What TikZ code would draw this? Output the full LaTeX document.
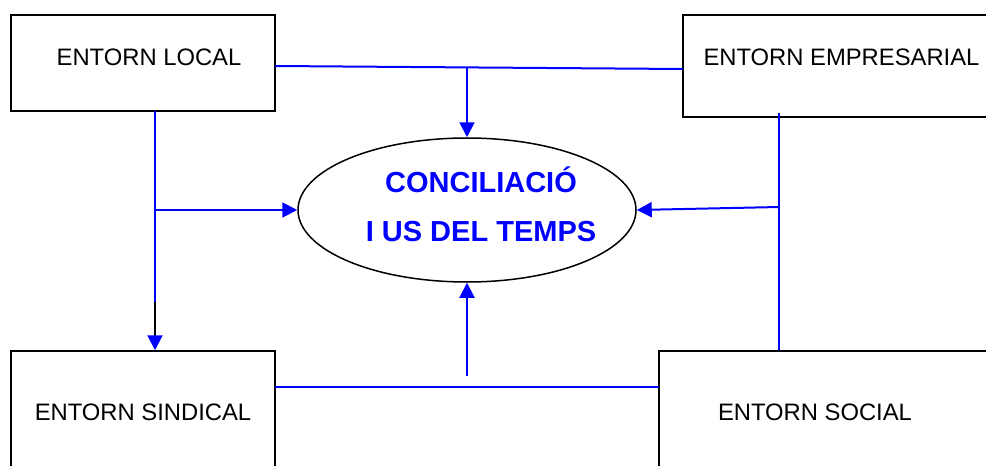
\documentclass[tikz,border=0pt]{standalone}
\usepackage{fontspec}
\setmainfont{Liberation Sans}
\usetikzlibrary{shapes.geometric,arrows.meta}
\definecolor{lineblue}{RGB}{0,0,255}
\begin{document}
\begin{tikzpicture}[x=1pt,y=-1pt,
  boxnode/.style={draw=black,line width=1.5pt,rectangle,inner sep=0pt,minimum width=#1},
  boxtext/.style={anchor=base,inner sep=0pt,font=\fontsize{23.8}{28}\selectfont},
  conn/.style={draw=lineblue,line width=2pt},
  tip/.style={-{Triangle[width=15pt,length=15pt,fill=lineblue,color=lineblue]}},
  centretext/.style={anchor=base,inner sep=0pt,text=lineblue,font=\fontsize{29}{34}\bfseries\selectfont}]
\useasboundingbox (0,0) rectangle (986,466);
\clip (0,0) rectangle (986,466);
% boxes
\node[boxnode=264pt,minimum height=96pt] (local) at (143,63) {};
\node[boxnode=340pt,minimum height=102pt] (empr) at (853,66) {};
\node[boxnode=264pt,minimum height=140pt] (sind) at (143,421) {};
\node[boxnode=360pt,minimum height=140pt] (social) at (839,421) {};
\node[boxtext] (tlocal) at (149,65) {ENTORN LOCAL};
\node[boxtext] (tempr) at (841.5,65) {ENTORN EMPRESARIAL};
\node[boxtext] (tsind) at (143,420.7) {ENTORN SINDICAL};
\node[boxtext] (tsocial) at (815,420.7) {ENTORN SOCIAL};
% ellipse
\node[ellipse,draw=black,line width=1.5pt,minimum width=338pt,minimum height=144pt,inner sep=0pt] (conc) at (467,210) {};
\node[centretext] (t1) at (481,192.7) {CONCILIACIÓ};
\node[centretext] (t2) at (481,241.7) {I US DEL TEMPS};
% junction coordinates
\coordinate (lt) at (275,66);
\coordinate (rt) at (683,69);
\coordinate (jtop) at (467,67.4);
\coordinate (ltop) at (155,111);
\coordinate (lmid) at (155,210);
\coordinate (lblk) at (155,302);
\coordinate (rtop) at (779,113);
\coordinate (rmid) at (779,207);
\coordinate (lb) at (275,386.5);
\coordinate (rb) at (659,386.5);
\coordinate (jbot) at (467,376);
% connectors
\draw[conn] (lt) -- (rt);
\draw[conn,tip] (jtop) -- (conc.north);
\draw[conn] (ltop) -- (lblk);
\draw[line width=2pt,black,tip] (lblk) -- (sind.north -| ltop);
\draw[conn,tip] (lmid) -- (conc.west);
\draw[conn] (rtop) -- (social.north -| rtop);
\draw[conn,tip] (rmid) -- (conc.east);
\draw[conn] (lb) -- (rb);
\draw[conn,tip] (jbot) -- (conc.south);
\end{tikzpicture}
\end{document}
